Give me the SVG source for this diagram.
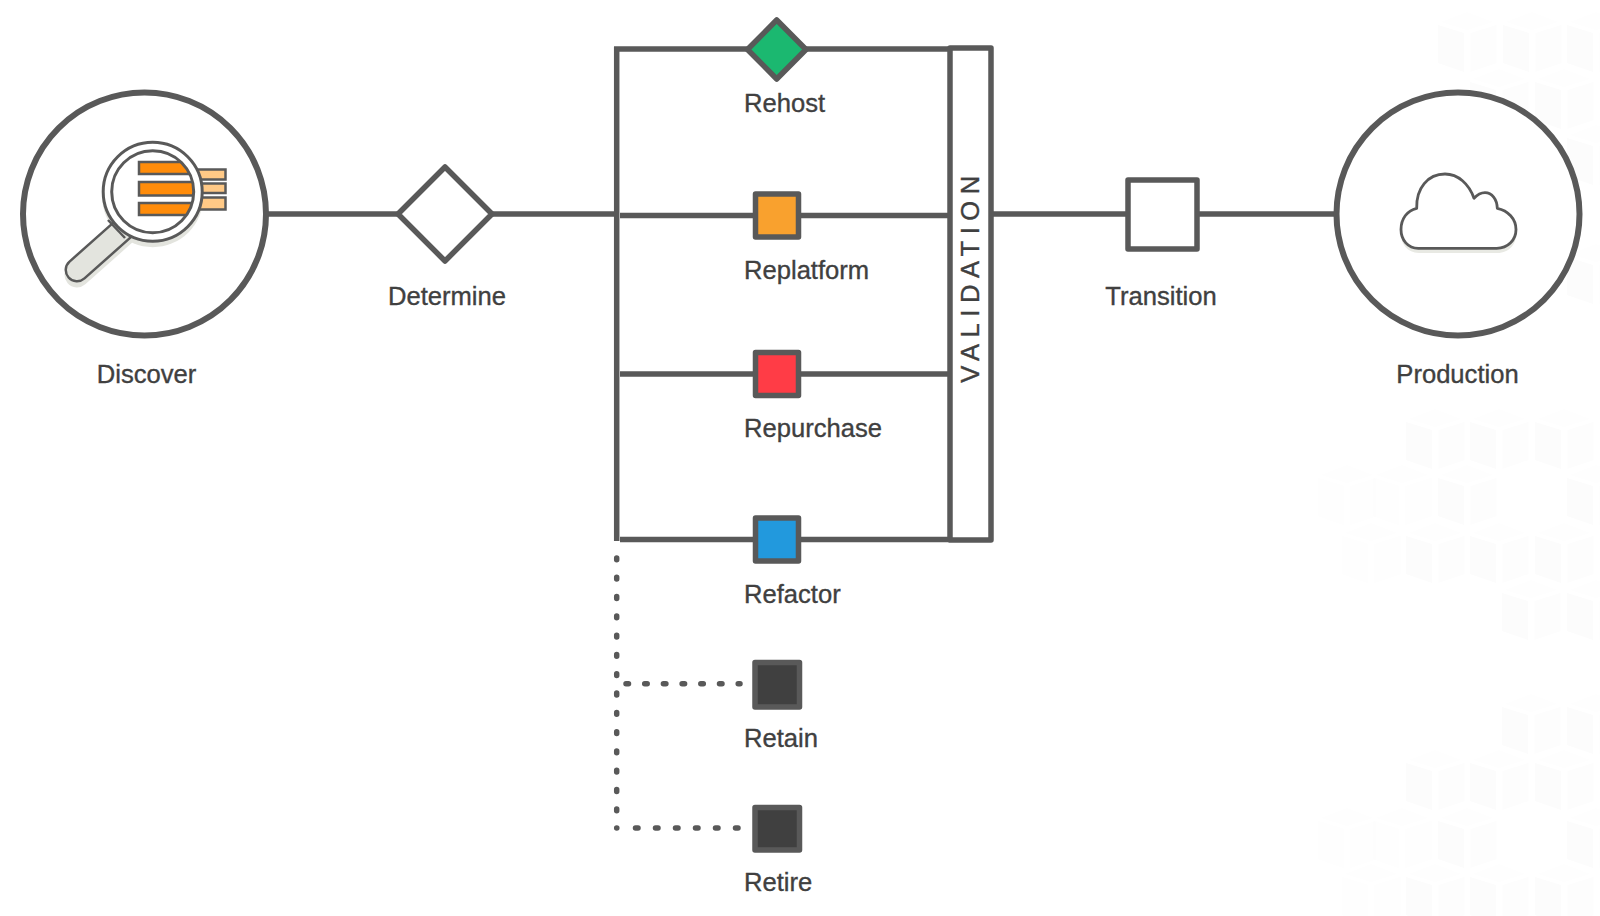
<svg xmlns="http://www.w3.org/2000/svg" width="1600" height="916" viewBox="0 0 1600 916">
<style>
.l{font-family:"Liberation Sans",Arial,sans-serif;font-size:25.6px;fill:#404040;stroke:#404040;stroke-width:.35px}
.m{text-anchor:middle}
.s{fill:none;stroke:#595959;stroke-width:5.5}
.n{stroke:#595959;stroke-width:5.5;stroke-linejoin:round}
.d{fill:none;stroke:#595959;stroke-width:5.5;stroke-linecap:round}
.bar{stroke:#595959;stroke-width:2.5}
</style>
<defs>
<g id="cube">
<polygon points="0,0 26,8 26,47 0,38" fill="#fcfcfc"/>
<polygon points="32.5,8 58.5,0 58.5,38 32.5,47" fill="#fdfdfd"/>
<polygon points="3,-3 29,-13 55,-3 29,5" fill="#fefefe"/>
</g>
<g id="cubeF" opacity=".3"><use href="#cube"/></g>
<clipPath id="lens"><circle cx="152.7" cy="191.7" r="41"/></clipPath>
</defs>
<rect width="1600" height="916" fill="#fff"/>
<g id="background">
<use href="#cube" x="1438" y="25"/><use href="#cube" x="1503" y="25"/><use href="#cube" x="1567" y="25"/>
<use href="#cube" x="1470" y="82"/><use href="#cube" x="1535" y="82"/>
<use href="#cube" x="1567" y="138"/><use href="#cube" x="1567" y="257"/>
<use href="#cube" x="1406" y="422"/><use href="#cube" x="1470" y="422"/><use href="#cube" x="1535" y="422"/>
<use href="#cube" x="1438" y="478"/><use href="#cube" x="1567" y="478"/>
<use href="#cubeF" x="1373" y="478"/><use href="#cubeF" x="1318" y="478"/>
<use href="#cube" x="1406" y="536"/><use href="#cube" x="1470" y="536"/><use href="#cube" x="1535" y="536"/><use href="#cubeF" x="1342" y="536"/>
<use href="#cube" x="1502" y="593"/><use href="#cube" x="1567" y="593"/>
<use href="#cube" x="1502" y="707"/><use href="#cube" x="1567" y="707"/>
<use href="#cube" x="1406" y="763"/><use href="#cube" x="1470" y="763"/><use href="#cube" x="1535" y="763"/>
<use href="#cube" x="1438" y="821"/><use href="#cube" x="1567" y="821"/>
<use href="#cubeF" x="1373" y="821"/><use href="#cubeF" x="1318" y="821"/>
<use href="#cube" x="1406" y="877"/><use href="#cube" x="1470" y="877"/><use href="#cube" x="1535" y="877"/><use href="#cubeF" x="1342" y="877"/>
</g>
<g id="connectors">
<path class="s" d="M266 214H398M492 214H616.7"/>
<path class="s" d="M616.7 46.500V541M614 49H950M620 215.500H950M620 374H950M620 539.500H950"/>
<path class="s" d="M992 214H1128M1198 214H1334"/>
<path class="d" stroke-dasharray="1.800 17.500" d="M616.7 558V828"/>
<path class="d" stroke-dasharray="2.500 16.200" d="M626 683.700H740"/>
<path class="d" stroke-dasharray="0.100 20" d="M616.7 828H617"/>
<path class="d" stroke-dasharray="2.500 17.500" d="M635.500 828H738"/>
</g>
<g id="discover">
<circle cx="144.500" cy="214" r="121.500" fill="#fff" stroke="#595959" stroke-width="6"/>
<path d="M122 235L77 275" stroke="#e3e4de" stroke-width="25" stroke-linecap="round"/>
<circle cx="152.700" cy="196.700" r="50.500" fill="#e3e4de"/>
<path d="M122 230L77 270" stroke="#595959" stroke-width="25" stroke-linecap="round"/>
<path d="M122 230L77 270" stroke="#e3e4de" stroke-width="20" stroke-linecap="round"/>
<path d="M108 220L125 238" stroke="#595959" stroke-width="2.500"/>
<rect class="bar" x="190" y="169.500" width="35.500" height="10" fill="#ffc986"/>
<rect class="bar" x="190" y="183.500" width="35.500" height="9.500" fill="#ffc986"/>
<rect class="bar" x="190" y="197.500" width="35.500" height="12" fill="#ffc986"/>
<circle cx="152.700" cy="191.700" r="49.500" fill="#fff" stroke="#595959" stroke-width="3"/>
<g clip-path="url(#lens)">
<rect x="139" y="162" width="60" height="12" fill="#ff8c0a" class="bar"/>
<rect x="139" y="182" width="60" height="13.500" fill="#ff8c0a" class="bar"/>
<rect x="139" y="203" width="60" height="12" fill="#ff8c0a" class="bar"/>
</g>
<circle cx="152.700" cy="191.700" r="41" fill="none" stroke="#595959" stroke-width="3"/>
<text class="l m" x="146.500" y="383">Discover</text>
</g>
<g id="determine">
<polygon class="n" points="445,167 492,214 445,261 398,214" fill="#fff"/>
<text class="l m" x="447" y="305">Determine</text>
</g>
<g id="rehost">
<polygon class="n" points="776.700,20 806,49.500 776.700,79 747.500,49.500" fill="#1bb870"/>
<text class="l" x="744" y="112">Rehost</text>
</g>
<g id="replatform">
<rect class="n" x="755.500" y="194" width="43" height="43" fill="#f9a12e"/>
<text class="l" x="744" y="279">Replatform</text>
</g>
<g id="repurchase">
<rect class="n" x="755.500" y="352.500" width="43" height="43" fill="#ff3c46"/>
<text class="l" x="744" y="437">Repurchase</text>
</g>
<g id="refactor">
<rect class="n" x="755.500" y="518" width="43" height="43" fill="#2299dd"/>
<text class="l" x="744" y="603">Refactor</text>
</g>
<g id="retain">
<rect class="n" x="755" y="662.500" width="44.500" height="44.500" fill="#404040"/>
<text class="l" x="744" y="747">Retain</text>
</g>
<g id="retire">
<rect class="n" x="755" y="807.500" width="44.500" height="42.500" fill="#404040"/>
<text class="l" x="744" y="891">Retire</text>
</g>
<g id="validation">
<rect class="n" x="950" y="48" width="41" height="492" fill="#fff"/>
<text class="l m" transform="translate(979 276) rotate(-90)" style="letter-spacing:6.500px">VALIDATION</text>
</g>
<g id="transition">
<rect class="n" x="1128" y="180" width="69" height="69" fill="#fff"/>
<text class="l m" x="1161" y="305">Transition</text>
</g>
<g id="production">
<circle cx="1458" cy="214" r="121.500" fill="#fff" stroke="#595959" stroke-width="6"/>
<path d="M1419 253H1497C1510 253 1516 243 1516 235L1401 235C1401 243 1407 253 1419 253Z" fill="#e8e9e3"/>
<path d="M1418.300 248.300H1496.700C1508 248.300 1516 240 1516 229.500C1516 219 1508 210.500 1497.300 208.300C1497 199 1492 192.700 1485 192.700C1481 192.700 1477 195 1474 198.300C1469 184 1458 174 1445 174C1428 174 1416 188 1416.700 208.300C1407 210.500 1401 219 1401 229.500C1401 240 1408 248.300 1418.300 248.300Z" fill="#fff" stroke="#595959" stroke-width="2.800" stroke-linejoin="round"/>
<text class="l m" x="1457.500" y="383">Production</text>
</g>
</svg>
